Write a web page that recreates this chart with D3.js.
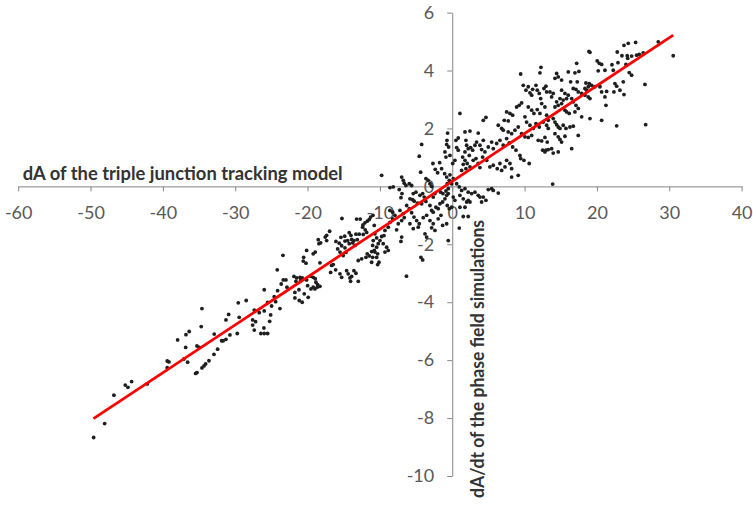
<!DOCTYPE html>
<html><head><meta charset="utf-8">
<script src="https://cdn.jsdelivr.net/npm/d3@7"></script>
<style>body{margin:0;background:#fff}</style>
</head><body>
<svg id="c" width="753" height="515"></svg>
<script>
const xTicks = [-60,-50,-40,-30,-20,-10,0,10,20,30,40];
const yTicks = [-10,-8,-6,-4,-2,0,2,4,6];
const xTitle = "dA of the triple junction tracking model";
const yTitle = "dA/dt of the phase field simulations";
const trendX = [-49.6, 30.55];
const trendY = [-8.02, 5.22];

// x: dA of the triple junction tracking model
const modelDA = [
// lower left
-49.57,-48.05,-46.77,-45.20,-44.83,-44.32,-42.16,-39.40,-39.16,-39.40,-37.09,-36.58,-35.47,-35.29,-34.60,-34.32,-34.09,-33.63,-32.94,
// -35..-22
-23.40,-24.19,-23.36,-22.99,-23.64,-22.85,-24.14,-25.99,-24.61,-24.41,-25.52,-24.97,-23.82,-25.99,-25.10,-26.68,-27.37,-28.48,-29.58,-30.91,
-31.28,-29.45,-27.59,-27.18,-25.24,-27.59,-27.37,-26.03,-26.45,-25.99,-25.52,-29.72,-30.73,-31.28,-31.88,-31.66,-32.90,-32.43,-34.60,-34.70,
-36.36,-36.81,-37.96,-36.85,-35.29,-34.97,
// -22..-10
-15.25,-13.22,-12.72,-12.34,-12.07,-11.75,-11.47,-11.28,-10.96,-12.39,-12.03,-11.83,-10.78,-16.95,-17.36,-17.56,-17.36,-18.52,-18.19,-18.43,
-16.08,-15.62,-15.39,-14.87,-14.24,-14.00,-13.31,-12.86,-12.30,-14.83,-14.46,-13.91,-13.59,-13.13,-15.29,-14.83,-14.24,-13.77,-13.45,-15.84,
-15.52,-15.07,-14.69,-18.94,-19.22,-20.13,-20.54,-20.60,-20.22,-18.29,-16.67,-16.45,-16.12,-14.60,-14.38,-14.14,-13.91,-14.05,-13.59,-13.31,
-12.99,-12.99,-12.52,-11.93,-11.47,-11.75,-11.14,-10.78,-10.31,-10.45,-10.13,-10.31,-21.88,-21.51,-21.05,-20.74,-21.61,-20.96,-20.13,-19.57,
-19.22,-18.94,-18.84,-18.61,-18.29,-19.99,-19.53,-19.22,-18.98,-18.66,-21.19,-21.75,-20.46,-19.91,-21.75,-21.15,-20.74,-16.81,-15.52,-15.29,
// -11..0
-0.64,-0.73,-0.77,-0.50,-4.23,-4.56,-4.37,-2.67,-1.74,-2.35,-2.02,-1.47,-3.64,-3.32,-3.08,-2.85,-1.01,-0.87,-0.32,-1.05,
-0.77,-0.32,-0.41,-0.69,-0.08,-9.76,-8.61,-8.16,-6.99,-6.77,-6.64,-6.40,-5.94,-7.33,-6.95,-7.09,-5.61,-5.39,-5.02,-5.85,
-5.47,-5.25,-4.78,-4.47,-4.09,-3.87,-4.23,-3.64,-3.08,-2.85,-2.63,-2.25,-1.94,-1.70,-1.33,-1.01,-0.77,-0.55,-0.69,-0.41,
-0.55,-0.87,-1.29,-1.60,-2.39,-2.63,-6.30,-5.94,-5.61,-5.29,-4.92,-4.56,-7.23,-6.77,-6.64,-6.99,-7.46,-7.69,-7.92,-8.24,
-8.61,-8.85,-9.30,-9.44,-9.76,-9.99,-10.23,-10.69,-10.45,-10.92,-11.00,-10.45,-10.69,-11.00,-11.14,-9.54,-9.07,-9.30,-8.85,-6.99,
-7.09,-5.85,-5.39,-4.70,-4.01,-3.54,-3.08,-2.63,-2.85,-2.39,-3.77,-3.54,-1.94,-1.56,-1.33,-0.77,-0.55,-4.33,-4.09,-8.61,
-8.24,-6.33,
// 0..13
12.26,12.12,9.46,1.06,4.29,4.66,7.52,7.98,8.35,7.19,7.74,9.59,9.26,8.90,9.82,10.19,10.51,10.74,10.98,11.11,
11.57,11.75,12.03,12.22,12.68,12.95,13.05,10.51,10.98,11.29,11.75,12.12,12.36,12.81,13.05,13.27,10.05,10.28,10.74,11.20,
11.57,12.03,12.58,13.05,13.27,6.36,6.83,7.05,7.74,8.21,8.67,9.12,9.59,10.05,10.51,10.98,11.89,12.36,12.81,13.13,
12.95,0.83,0.51,0.61,0.83,1.76,2.45,3.59,3.37,3.14,1.89,1.99,2.21,1.76,2.54,2.82,2.35,1.44,1.76,1.52,
2.07,2.45,1.89,1.30,2.90,3.28,3.59,3.83,4.20,4.52,4.98,5.45,5.67,6.14,6.59,7.05,4.06,3.83,4.29,7.52,
7.88,8.35,8.81,9.36,4.76,5.21,5.67,6.22,6.59,6.83,7.29,7.52,7.98,8.21,8.21,9.12,9.46,9.91,10.64,5.45,
5.67,6.36,0.14,0.61,0.97,1.30,1.76,2.21,2.68,3.14,3.59,1.06,1.52,1.99,2.21,4.29,4.66,4.06,0.14,0.37,
-0.08,1.06,1.76,0.06,0.37,12.50,12.81,13.27,4.98,3.83,2.45,13.88,0.97,1.52,2.21,
// 13..31
23.74,24.33,25.35,22.81,23.46,24.19,24.25,24.80,25.85,18.90,19.04,20.04,20.32,20.65,17.20,22.08,22.91,22.26,24.01,20.18,
21.11,16.04,16.96,17.51,14.43,14.65,14.20,15.12,24.47,24.80,16.37,17.28,18.48,18.94,19.27,18.80,18.34,18.58,19.73,20.42,
20.65,21.34,21.11,22.49,22.73,22.35,23.64,23.18,23.74,13.51,13.96,13.74,15.12,15.58,16.04,14.89,15.34,15.81,16.51,16.73,
17.10,17.42,17.89,18.34,18.80,19.04,14.43,14.65,15.12,14.20,16.73,17.10,17.42,16.96,15.58,15.81,16.17,13.96,14.20,14.43,
14.65,14.89,15.34,15.72,16.27,16.73,17.89,19.04,20.65,17.42,14.20,14.65,14.89,15.12,15.58,16.51,14.65,13.74,13.96,21.25,
22.73,28.48,30.55,26.64,26.74,26.40,25.49
];

// y: dA/dt of the phase field simulations
const simDAdt = [
-8.67,-8.19,-7.21,-6.86,-6.94,-6.74,-6.82,-6.03,-6.06,-6.26,-5.96,-6.07,-6.46,-6.43,-6.27,-6.20,-6.13,-6.02,-5.80,
-2.38,-2.88,-3.23,-3.23,-3.37,-3.48,-3.60,-3.57,-3.81,-3.98,-4.01,-4.13,-4.22,-4.30,-4.44,-4.36,-4.27,-3.94,-4.02,-4.42,
-4.61,-4.52,-4.61,-4.67,-4.66,-4.79,-4.96,-4.89,-5.08,-5.08,-5.08,-5.08,-5.13,-5.28,-5.33,-5.33,-5.10,-5.62,-4.22,-4.84,
-5.01,-5.12,-5.30,-5.56,-5.51,-5.56,
-1.11,-1.13,-1.13,-1.33,-1.26,-1.20,-1.14,-1.06,-1.00,-1.41,-1.50,-1.59,-1.35,-1.55,-1.69,-1.75,-1.87,-1.84,-1.95,-1.98,
-1.90,-1.96,-1.76,-1.72,-1.60,-1.69,-1.65,-1.65,-1.66,-1.89,-1.87,-1.83,-1.87,-1.84,-2.05,-2.12,-1.98,-1.95,-2.04,-2.16,
-2.27,-2.39,-2.28,-2.27,-2.33,-2.21,-2.45,-2.58,-2.65,-2.64,-2.73,-2.70,-2.88,-2.91,-3.02,-3.16,-3.11,-3.28,-2.91,-3.00,
-3.28,-2.56,-2.50,-2.45,-2.40,-2.33,-2.25,-2.21,-2.33,-2.45,-2.62,-2.70,-3.11,-3.16,-3.14,-3.16,-3.28,-3.25,-3.23,-3.10,
-3.14,-3.19,-3.31,-3.39,-3.45,-3.43,-3.54,-3.48,-3.54,-3.48,-3.57,-3.66,-3.71,-3.83,-3.85,-3.94,-4.00,-2.97,-3.02,-3.14,
1.84,1.59,1.45,1.36,1.45,1.04,0.49,0.79,0.82,0.59,0.47,0.61,0.27,0.21,0.09,0.00,1.19,1.01,1.07,0.44,
0.32,0.40,0.21,0.09,0.09,0.38,-0.04,-0.02,0.32,0.21,0.11,0.03,0.09,-0.11,-0.25,-0.39,0.03,-0.25,-0.20,-0.43,
-0.46,-0.51,-0.58,-0.31,-0.25,-0.37,-0.60,-0.52,-0.66,-0.83,-0.89,-0.72,-0.77,-0.60,-0.54,-0.43,-0.31,-0.25,-0.66,-0.77,
-0.08,-0.16,-0.25,-0.20,-0.25,-0.37,-0.66,-0.77,-0.91,-1.06,-1.18,-1.29,-0.83,-0.94,-1.08,-1.18,-1.29,-1.50,-1.00,-1.12,
-1.24,-1.41,-1.52,-1.70,-1.73,-1.87,-1.98,-1.64,-1.78,-1.87,-2.04,-2.10,-2.27,-2.45,-2.62,-1.98,-2.10,-2.27,-2.21,-1.75,
-1.90,-1.29,-1.46,-1.41,-1.08,-1.00,-1.18,-1.29,-1.43,-1.52,-1.64,-1.75,-1.12,-1.00,-1.35,-1.29,-1.87,-2.45,-2.54,-0.83,
-0.89,-3.10,
4.11,3.92,3.88,2.52,2.28,2.38,2.57,2.52,2.46,2.28,2.26,2.88,2.80,2.74,3.49,3.32,3.44,3.23,3.15,3.35,
3.49,3.32,3.21,3.03,3.38,3.46,3.26,2.74,2.63,2.52,2.65,2.52,2.86,2.74,2.46,2.28,2.40,2.22,2.11,2.00,
2.17,2.05,2.22,2.11,2.00,2.11,2.00,1.94,1.88,1.82,1.94,2.05,1.82,1.71,1.69,1.76,1.59,1.57,1.69,1.53,
1.25,1.67,1.59,1.34,1.25,1.88,1.91,1.84,1.53,1.42,1.59,1.42,1.30,1.19,1.34,1.25,1.07,1.01,0.90,0.76,
0.79,0.67,0.61,0.55,0.90,0.96,0.79,0.65,1.01,1.19,1.36,1.53,1.30,1.48,1.59,1.42,1.27,1.42,1.59,1.65,
1.50,1.36,1.25,1.07,0.90,0.67,0.73,0.61,0.79,0.55,0.67,0.90,0.79,0.61,0.32,0.38,0.96,0.90,0.79,-0.08,
-0.14,-0.23,0.27,0.09,-0.02,-0.14,-0.08,-0.20,-0.25,-0.20,-0.31,-0.31,-0.43,-0.54,-0.48,-0.37,-0.48,-0.54,-0.37,-0.48,
-0.72,-0.72,-0.72,0.79,0.90,1.25,1.19,1.27,-0.11,-0.37,-0.54,0.08,-1.44,-1.04,-1.04,
4.87,4.94,4.97,4.64,4.51,4.51,4.42,4.50,4.56,4.66,4.63,4.33,4.25,4.21,4.25,4.20,4.27,4.01,4.21,3.99,
4.01,3.95,3.92,3.97,3.90,3.78,3.73,3.67,3.93,3.84,3.61,3.61,3.57,3.55,3.49,3.44,3.38,3.32,3.44,3.44,
3.26,3.28,3.09,3.55,3.46,3.26,3.61,3.32,3.17,3.26,3.21,3.09,3.32,3.21,3.15,3.03,2.98,3.03,3.03,3.38,
3.35,3.26,3.21,3.15,3.09,3.03,2.92,2.80,2.86,2.74,2.92,2.80,2.69,2.57,2.63,2.57,2.52,2.34,2.22,2.13,
2.05,2.00,2.11,2.00,2.05,2.08,2.40,2.34,2.28,1.76,1.82,1.71,1.62,1.53,1.73,1.30,1.19,1.30,1.15,2.80,
2.09,4.99,4.51,3.52,2.13,4.61,4.53
];

const x = d3.scaleLinear().domain([-60, 40]).range([18.2, 741.6]);
const y = d3.scaleLinear().domain([-10, 6]).range([476, 12.6]);
const svg = d3.select("#c");
const font = "Lato, 'Open Sans', sans-serif";
const axisColor = "#868686";
const labelColor = "#595959";

// x axis
const gx = svg.append("g").attr("transform", `translate(0,${y(0)})`)
  .call(d3.axisBottom(x).tickValues(xTicks).tickFormat(d => String(d)).tickSize(5).tickSizeOuter(0));
// y axis
const gy = svg.append("g").attr("transform", `translate(${x(0)},0)`)
  .call(d3.axisLeft(y).tickValues(yTicks).tickFormat(d => String(d)).tickSize(5).tickSizeOuter(0).tickPadding(13));

[gx, gy].forEach(g => {
  g.select(".domain").attr("stroke", axisColor).attr("stroke-width", 1);
  g.selectAll(".tick line").attr("stroke", axisColor).attr("stroke-width", 1);
  g.selectAll(".tick text").attr("fill", labelColor).style("font-family", font).style("font-size", "18px");
});
gx.selectAll(".tick text").attr("y", 26).attr("dy", "0.35em");

// titles
svg.append("text").attr("x", 22.7).attr("y", 180).text(xTitle)
  .attr("textLength", 320).attr("lengthAdjust", "spacingAndGlyphs")
  .style("font-family", font).style("font-size", "18.5px").style("font-weight", "bold").attr("fill", "#333");
svg.append("text").attr("transform", "translate(484,498) rotate(-90)").text(yTitle)
  .attr("textLength", 278).attr("lengthAdjust", "spacingAndGlyphs")
  .style("font-family", font).style("font-size", "18.5px").style("font-weight", "bold").attr("fill", "#333");

// points
const pts = modelDA.map((v, i) => [v, simDAdt[i]]);
svg.append("g").selectAll("circle").data(pts).join("circle")
  .attr("cx", d => x(d[0])).attr("cy", d => y(d[1])).attr("r", 1.9).attr("fill", "#1e1e1e");

// trend line
svg.append("path").datum(trendX.map((v, i) => [v, trendY[i]]))
  .attr("d", d3.line().x(d => x(d[0])).y(d => y(d[1])))
  .attr("fill", "none").attr("stroke", "#ff0000").attr("stroke-width", 2.8);
</script>
</body></html>
